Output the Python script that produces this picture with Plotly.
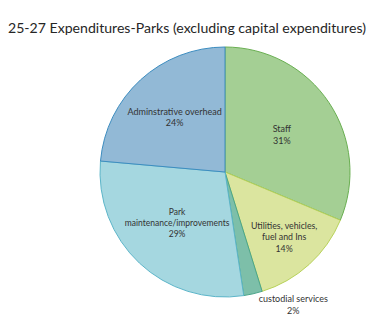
import plotly.graph_objects as go

labels = ["Staff", "Utilities, vehicles,<br>fuel and Ins", "custodial services",
          "Park<br>maintenance/improvements", "Adminstrative overhead"]
values = [31.3, 13.9, 2.4, 28.8, 23.6]
colors = ["#a4cf94", "#dbe59f", "#7dbfa9", "#a5d7e0", "#92b9d6"]
borders = ["#6aaf52", "#b8d25a", "#4aa58a", "#5cb5c9", "#3d8dc0"]
positions = ["inside", "inside", "outside", "inside", "inside"]

W, H = 382, 323
fig = go.Figure(go.Pie(
    labels=labels, values=values, sort=False, direction="clockwise", rotation=0,
    marker=dict(colors=colors, line=dict(color=borders, width=1)),
    texttemplate="%{label}<br>%{percent:.0%}",
    textposition=positions,
    insidetextorientation="horizontal",
    textfont=dict(family="Lato", size=9, color="#333333"),
    outsidetextfont=dict(family="Lato", size=9, color="#333333"),
    domain=dict(x=[100 / W, 350 / W], y=[26 / H, 276 / H]),
    showlegend=False, hoverinfo="label+percent",
))
fig.update_layout(
    width=W, height=H, margin=dict(l=0, r=0, t=0, b=0),
    paper_bgcolor="white",
    title=dict(text="25-27 Expenditures-Parks (excluding capital expenditures)",
               x=8 / W, xanchor="left", y=1 - 28 / H, yanchor="middle",
               font=dict(family="Lato", size=14.1, color="#262626")),
)
fig.write_html("out.html")
